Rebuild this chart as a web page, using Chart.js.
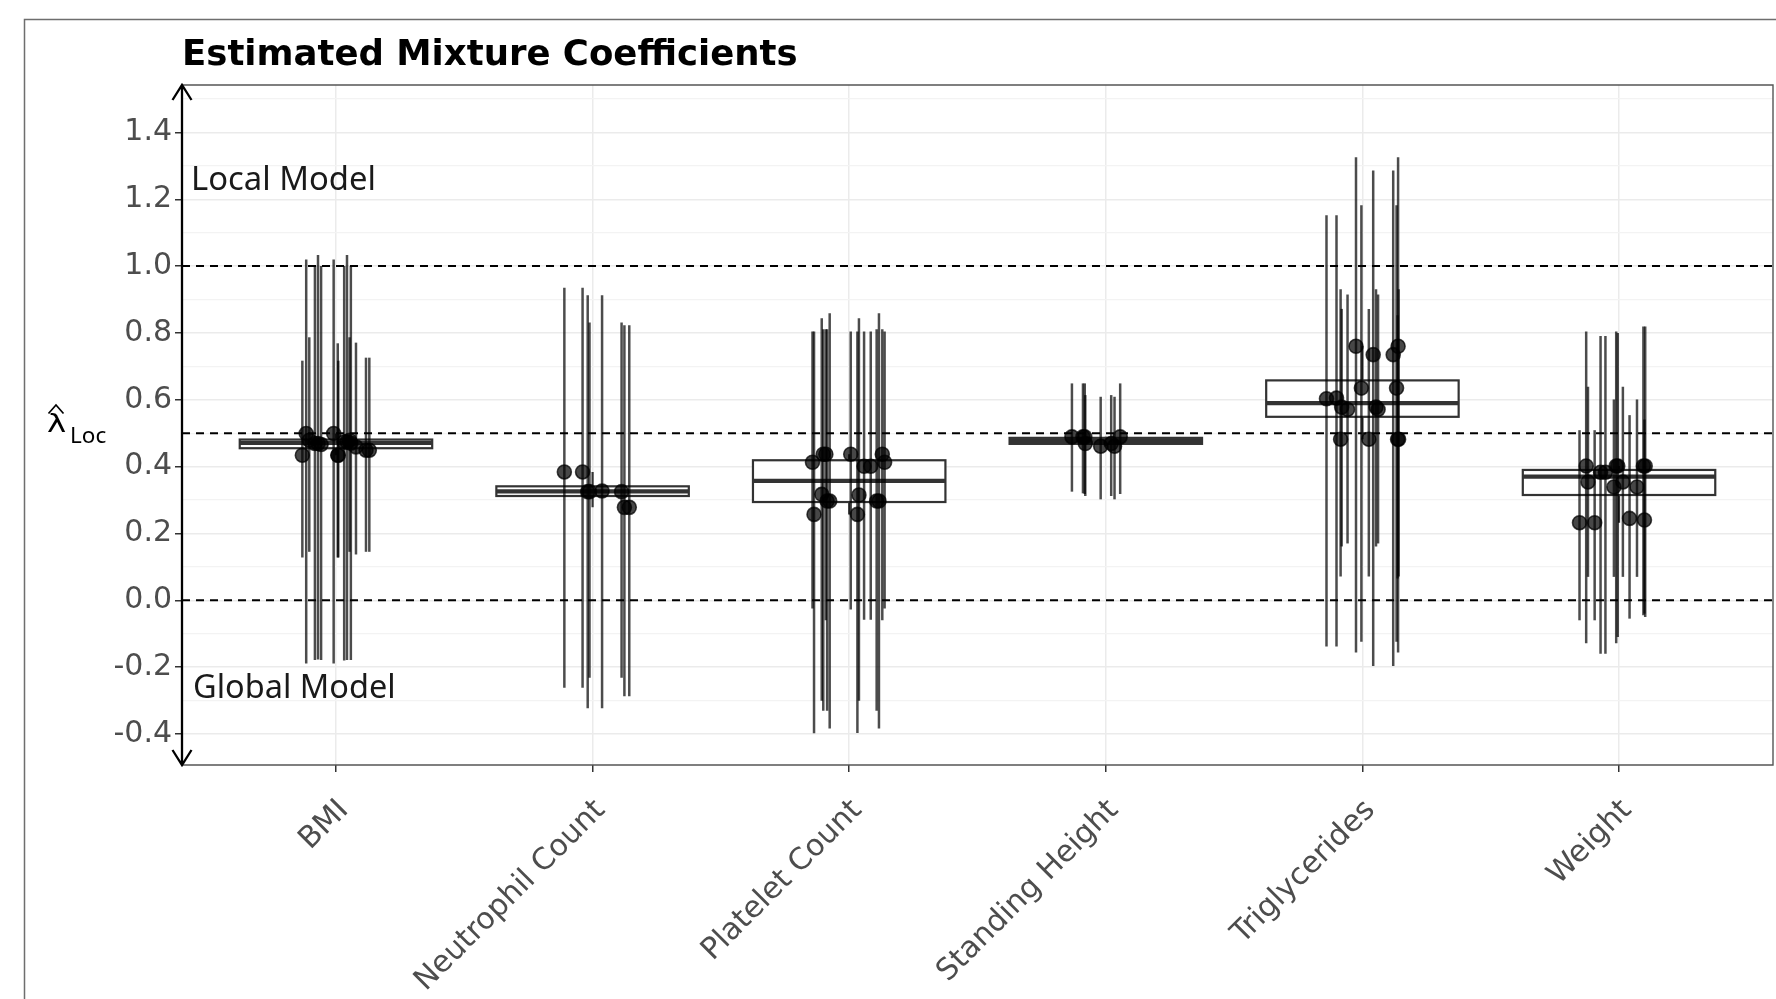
<!DOCTYPE html>
<html>
<head>
<meta charset="utf-8">
<script src="https://cdn.jsdelivr.net/npm/chart.js@4.4.1/dist/chart.umd.min.js"></script>
<style>
  html, body { margin: 0; padding: 0; background: #fff; overflow: hidden; }
  #chart-canvas { display: block; }
</style>
</head>
<body>
<canvas id="chart-canvas" width="1776" height="999" style="width:1776px;height:999px"></canvas>
<script>
//------------------------ DATA ----------------------------

const categories = ["BMI", "Neutrophil Count", "Platelet Count", "Standing Height", "Triglycerides", "Weight"];

// horizontal jitter of each estimate, in category units (one row per category)
const jitter = [
  [-0.131, -0.116, -0.104, -0.082, -0.070, -0.058, -0.009, 0.007, 0.009, 0.032, 0.043, 0.058, 0.053, 0.078, 0.117, 0.130],
  [-0.110, -0.039, -0.019, -0.012, 0.037, 0.113, 0.124, 0.143],
  [-0.143, -0.137, -0.107, -0.101, -0.091, -0.086, -0.076, 0.006, 0.032, 0.038, 0.058, 0.084, 0.107, 0.116, 0.129, 0.138],
  [-0.132, -0.089, -0.082, -0.080, -0.020, 0.021, 0.034, 0.056],
  [-0.140, -0.101, -0.085, -0.081, -0.058, -0.025, -0.004, 0.025, 0.042, 0.053, 0.061, 0.120, 0.133, 0.137, 0.139, 0.141],
  [-0.154, -0.128, -0.121, -0.095, -0.072, -0.053, -0.020, -0.011, -0.005, 0.015, 0.041, 0.070, 0.095, 0.099, 0.102],
];

// point estimates of lambda_Loc
const estimate = [
  [0.434, 0.499, 0.479, 0.469, 0.469, 0.466, 0.499, 0.434, 0.434, 0.474, 0.474, 0.470, 0.479, 0.459, 0.449, 0.449],
  [0.384, 0.384, 0.325, 0.325, 0.327, 0.325, 0.278, 0.278],
  [0.413, 0.257, 0.317, 0.437, 0.437, 0.297, 0.297, 0.437, 0.257, 0.315, 0.401, 0.401, 0.297, 0.297, 0.437, 0.413],
  [0.489, 0.489, 0.489, 0.469, 0.461, 0.469, 0.461, 0.489],
  [0.603, 0.605, 0.482, 0.578, 0.571, 0.760, 0.635, 0.482, 0.735, 0.578, 0.571, 0.735, 0.635, 0.482, 0.760, 0.482],
  [0.232, 0.402, 0.354, 0.232, 0.383, 0.383, 0.339, 0.402, 0.402, 0.354, 0.245, 0.339, 0.402, 0.240, 0.402],
];

// interval lower ends
const lower = [
  [0.128, -0.189, 0.145, -0.179, -0.177, -0.179, -0.189, 0.128, 0.128, -0.180, -0.179, -0.179, 0.145, 0.137, 0.145, 0.145],
  [-0.262, -0.262, -0.323, -0.232, -0.323, -0.232, -0.287, -0.287],
  [-0.025, -0.398, -0.301, -0.331, -0.060, -0.331, -0.384, -0.028, -0.397, -0.301, -0.058, -0.058, -0.331, -0.384, -0.060, -0.025],
  [0.325, 0.320, 0.318, 0.312, 0.302, 0.312, 0.302, 0.318],
  [-0.138, -0.138, 0.071, 0.161, 0.170, -0.156, -0.124, 0.071, -0.197, 0.161, 0.170, -0.197, -0.124, 0.065, -0.156, 0.071],
  [-0.060, -0.129, 0.070, -0.060, -0.160, -0.160, 0.070, -0.129, -0.110, 0.070, -0.055, 0.070, -0.045, -0.040, -0.050],
];

// interval upper ends
const upper = [
  [0.717, 1.020, 0.787, 1.000, 1.033, 1.000, 1.020, 0.769, 0.717, 1.000, 1.033, 1.000, 0.787, 0.771, 0.726, 0.726],
  [0.935, 0.935, 0.913, 0.831, 0.913, 0.831, 0.823, 0.823],
  [0.804, 0.804, 0.844, 0.811, 0.811, 0.811, 0.859, 0.804, 0.804, 0.844, 0.804, 0.804, 0.811, 0.859, 0.811, 0.804],
  [0.649, 0.649, 0.649, 0.614, 0.609, 0.614, 0.609, 0.649],
  [1.152, 1.152, 0.931, 0.872, 0.915, 1.326, 1.182, 0.872, 1.286, 0.931, 0.915, 1.286, 1.182, 0.853, 1.326, 0.931],
  [0.509, 0.804, 0.639, 0.509, 0.791, 0.791, 0.601, 0.804, 0.800, 0.639, 0.554, 0.601, 0.819, 0.541, 0.819],
];

// box summaries per category
const boxQ1 = [0.455, 0.312, 0.294, 0.468, 0.549, 0.315];
const boxMedian = [0.471, 0.326, 0.357, 0.477, 0.590, 0.370];
const boxQ3 = [0.481, 0.341, 0.419, 0.486, 0.658, 0.390];

// dashed reference levels
const refLines = [0, 0.5, 1.0];

// y axis ticks
const yMajorTicks = [-0.4, -0.2, 0.0, 0.2, 0.4, 0.6, 0.8, 1.0, 1.2, 1.4];
const yMinorTicks = [-0.3, -0.1, 0.1, 0.3, 0.5, 0.7, 0.9, 1.1, 1.3, 1.5];

//------------------------ HELPERS ----------------------------

const BOX_HALF = 0.375;

function isMajor(v) {
  return yMajorTicks.some((t) => Math.abs(t - v) < 1e-6);
}

// whisker ends like ggplot: most extreme estimates inside 1.5 * IQR
function whiskers(i) {
  const iqr = boxQ3[i] - boxQ1[i];
  const inside = estimate[i].filter((v) => v >= boxQ1[i] - 1.5 * iqr && v <= boxQ3[i] + 1.5 * iqr);
  return [Math.min(...inside), Math.max(...inside)];
}

// flatten estimates into scatter points
const points = [];
categories.forEach((c, i) => {
  estimate[i].forEach((v, j) => {
    points.push({ x: i + 1 + jitter[i][j], y: v });
  });
});

//------------------------ PLUGINS ----------------------------

const underlay = {
  id: "underlay",
  beforeDatasetsDraw(chart) {
    const { ctx, chartArea: area, scales } = chart;
    const xs = scales.x;
    const ys = scales.y;

    ctx.save();
    ctx.beginPath();
    ctx.rect(area.left, area.top, area.right - area.left, area.bottom - area.top);
    ctx.clip();

    // dashed reference lines
    ctx.strokeStyle = "#000";
    ctx.lineWidth = 2;
    ctx.setLineDash([8, 6]);
    refLines.forEach((v) => {
      const y = ys.getPixelForValue(v);
      ctx.beginPath();
      ctx.moveTo(area.left, y);
      ctx.lineTo(area.right, y);
      ctx.stroke();
    });
    ctx.setLineDash([]);

    // box plots
    categories.forEach((c, i) => {
      const cx = xs.getPixelForValue(i + 1);
      const xl = xs.getPixelForValue(i + 1 - BOX_HALF);
      const xr = xs.getPixelForValue(i + 1 + BOX_HALF);
      const y1 = ys.getPixelForValue(boxQ1[i]);
      const y3 = ys.getPixelForValue(boxQ3[i]);
      const ym = ys.getPixelForValue(boxMedian[i]);
      const [wLo, wHi] = whiskers(i);

      ctx.strokeStyle = "#333333";
      ctx.lineWidth = 2.2;
      ctx.beginPath();
      ctx.moveTo(cx, y3);
      ctx.lineTo(cx, ys.getPixelForValue(wHi));
      ctx.moveTo(cx, y1);
      ctx.lineTo(cx, ys.getPixelForValue(wLo));
      ctx.stroke();

      ctx.fillStyle = "#ffffff";
      ctx.fillRect(xl, y3, xr - xl, y1 - y3);
      ctx.strokeRect(xl, y3, xr - xl, y1 - y3);

      ctx.lineWidth = 4.2;
      ctx.beginPath();
      ctx.moveTo(xl, ym);
      ctx.lineTo(xr, ym);
      ctx.stroke();
    });

    // interval bars
    ctx.strokeStyle = "rgba(0, 0, 0, 0.7)";
    ctx.lineWidth = 2.5;
    categories.forEach((c, i) => {
      estimate[i].forEach((v, j) => {
        const x = xs.getPixelForValue(i + 1 + jitter[i][j]);
        ctx.beginPath();
        ctx.moveTo(x, ys.getPixelForValue(lower[i][j]));
        ctx.lineTo(x, ys.getPixelForValue(upper[i][j]));
        ctx.stroke();
      });
    });

    ctx.restore();
  },
};

const overlay = {
  id: "overlay",
  afterDraw(chart) {
    const { ctx, chartArea: area } = chart;
    ctx.save();

    // outer figure frame
    ctx.strokeStyle = "#6e6e6e";
    ctx.lineWidth = 1.5;
    ctx.strokeRect(24.5, 19.5, 1800, 1100);

    // panel border (top, right, bottom)
    ctx.strokeStyle = "#555555";
    ctx.lineWidth = 1.4;
    ctx.beginPath();
    ctx.moveTo(area.left, area.top);
    ctx.lineTo(area.right, area.top);
    ctx.lineTo(area.right, area.bottom);
    ctx.lineTo(area.left, area.bottom);
    ctx.stroke();

    // y axis with arrows at both ends
    ctx.strokeStyle = "#000";
    ctx.lineWidth = 2.3;
    ctx.beginPath();
    ctx.moveTo(area.left, area.top);
    ctx.lineTo(area.left, area.bottom);
    ctx.moveTo(area.left - 9.5, area.top + 15);
    ctx.lineTo(area.left, area.top);
    ctx.lineTo(area.left + 9.5, area.top + 15);
    ctx.moveTo(area.left - 9.5, area.bottom - 15);
    ctx.lineTo(area.left, area.bottom);
    ctx.lineTo(area.left + 9.5, area.bottom - 15);
    ctx.stroke();

    // title
    ctx.fillStyle = "#000";
    ctx.font = 'bold 35.5px "DejaVu Sans"';
    ctx.textAlign = "left";
    ctx.textBaseline = "alphabetic";
    ctx.fillText("Estimated Mixture Coefficients", area.left, 65);

    // y axis title: lambda hat with subscript
    ctx.save();
    ctx.translate(47, 432);
    ctx.scale(1.35, 1);
    ctx.font = '24px "DejaVu Sans"';
    ctx.fillText("λ", 0, 0);
    ctx.restore();
    ctx.lineWidth = 1.7;
    ctx.beginPath();
    ctx.moveTo(48.5, 413.5);
    ctx.lineTo(56, 405);
    ctx.lineTo(63.5, 413.5);
    ctx.stroke();
    ctx.font = '22.5px "Noto Sans"';
    ctx.fillText("Loc", 70, 443);

    // region annotations
    ctx.fillStyle = "#1a1a1a";
    ctx.font = '32.8px "Noto Sans"';
    ctx.fillText("Local Model", 191, 190);
    ctx.font = '32.5px "Noto Sans"';
    ctx.fillText("Global Model", 193, 698);

    ctx.restore();
  },
};

//------------------------ CHART CREATION ----------------------------

const ctx = document.getElementById("chart-canvas").getContext("2d");
const myChart = new Chart(ctx, {
  type: "scatter",
  data: {
    datasets: [
      {
        data: points,
        backgroundColor: "rgba(0, 0, 0, 0.72)",
        borderColor: "rgba(0, 0, 0, 0.72)",
        borderWidth: 1.6,
        pointRadius: 7,
        pointHoverRadius: 7,
      },
    ],
  },
  options: {
    responsive: false,
    animation: false,
    layout: { autoPadding: false, padding: { left: 0, top: 85, right: 3, bottom: 0 } },
    plugins: {
      legend: { display: false },
      tooltip: { enabled: false },
    },
    scales: {
      x: {
        type: "linear",
        min: 0.4,
        max: 6.6,
        afterBuildTicks: (axis) => {
          axis.ticks = categories.map((c, i) => ({ value: i + 1 }));
        },
        afterFit: (axis) => {
          axis.height = 234;
          axis.paddingLeft = 0;
          axis.paddingRight = 0;
        },
        border: { display: false },
        grid: {
          color: "#EBEBEB",
          lineWidth: 1.5,
          tickLength: 7,
          tickColor: "#333333",
          tickWidth: 1.5,
        },
        ticks: {
          callback: (v) => categories[Math.round(v) - 1],
          autoSkip: false,
          minRotation: 45,
          maxRotation: 45,
          padding: 21,
          labelOffset: 8,
          color: "#4D4D4D",
          font: { family: "DejaVu Sans", size: 30 },
        },
      },
      y: {
        min: -0.493,
        max: 1.542,
        afterBuildTicks: (axis) => {
          axis.ticks = [...yMajorTicks, ...yMinorTicks].sort((a, b) => a - b).map((v) => ({ value: v }));
        },
        afterFit: (axis) => {
          axis.width = 182;
        },
        border: { display: false },
        grid: {
          color: (c) => (isMajor(c.tick.value) ? "#EBEBEB" : "#F3F3F3"),
          lineWidth: (c) => (isMajor(c.tick.value) ? 1.5 : 1.2),
          tickLength: 7,
          tickColor: (c) => (isMajor(c.tick.value) ? "#333333" : "rgba(0,0,0,0)"),
          tickWidth: 1.5,
        },
        ticks: {
          callback: (v) => (isMajor(v) ? v.toFixed(1) : ""),
          autoSkip: false,
          padding: 3,
          color: "#4D4D4D",
          font: { family: "DejaVu Sans", size: 30 },
        },
      },
    },
  },
  plugins: [underlay, overlay],
});
</script>
</body>
</html>
